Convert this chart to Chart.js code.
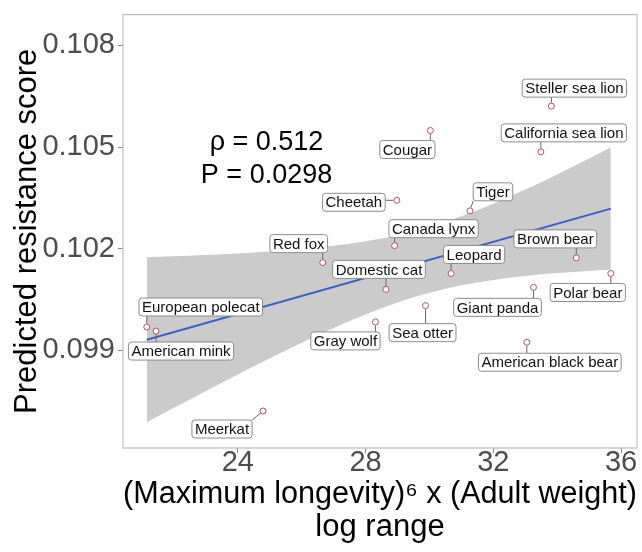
<!DOCTYPE html>
<html>
<head>
<meta charset="utf-8">
<script src="https://cdn.jsdelivr.net/npm/chart.js@4.4.1/dist/chart.umd.min.js"></script>
<style>
  html, body { margin: 0; padding: 0; background: #fff; }
  canvas { display: block; }
</style>
</head>
<body>
<canvas id="resistance" width="642" height="552"></canvas>
<script>
// species
const species = [
    "European polecat", "American mink", "Meerkat", "Red fox", "Domestic cat",
    "Gray wolf", "Sea otter", "Cheetah", "Canada lynx", "Cougar", "Tiger",
    "Leopard", "Brown bear", "Polar bear", "Giant panda", "American black bear",
    "California sea lion", "Steller sea lion"
];
const longevityWeight = [
    21.15, 21.44, 24.79, 26.66, 28.64,
    28.31, 29.88, 28.98, 28.91, 30.03, 31.27,
    30.68, 34.60, 35.68, 33.26, 33.05,
    33.49, 33.82
];
const resistanceScore = [
    0.09969, 0.09957, 0.09721, 0.10159, 0.10080,
    0.09984, 0.10032, 0.10343, 0.10209, 0.10549, 0.10312,
    0.10127, 0.10173, 0.10127, 0.10086, 0.09924,
    0.10486, 0.10621
];

// lm fit and its confidence band, read at a few x positions
const fitX = [21.15, 35.68];
const fitY = [0.099316, 0.103185];
const bandX = [21.15, 22, 23, 24, 25, 26, 27, 28, 29, 30, 31, 32, 33, 34, 35, 35.68];
const bandUpper = [0.101752, 0.101779, 0.101815, 0.101861, 0.101916, 0.101988, 0.102086, 0.102218,
    0.102400, 0.102646, 0.102959, 0.103331, 0.103747, 0.104195, 0.104662, 0.104988];
const bandLower = [0.096880, 0.097305, 0.097801, 0.098289, 0.098766, 0.099226, 0.099662, 0.100062,
    0.100412, 0.100700, 0.100919, 0.101079, 0.101195, 0.101281, 0.101346, 0.101382];

const xTicks = [24, 28, 32, 36];
const yTicks = [0.099, 0.102, 0.105, 0.108];
const statsLines = ["ρ = 0.512", "P = 0.0298"];

// label placement (pixel nudges from each point), like ggrepel put them
const labelNudge = [
    [54, -20], [25, 20], [-41, 18], [-24, -19], [-7, -20],
    [-30, 19], [-3, 27], [-43, 2], [39, -17], [-23, 19], [23, -19],
    [23, -19], [-21, -19], [-23, 19], [-36, 20], [23, 20],
    [23, -19], [23, -18]
];
const statsAt = { x: 24.9, y: [0.10513, 0.10415] };

const FONT = '"Liberation Sans", Arial, Helvetica, sans-serif';

function pts(xs, ys) {
    return xs.map((x, i) => ({ x: x, y: ys[i] }));
}

const panelPlugin = {
    id: 'panel',
    afterDatasetsDraw(chart) {
        const ctx = chart.ctx;
        const xs = chart.scales.x;
        const ys = chart.scales.y;
        const area = chart.chartArea;

        ctx.save();
        // stats annotation
        ctx.fillStyle = '#000';
        ctx.font = '27px ' + FONT;
        ctx.textAlign = 'center';
        ctx.textBaseline = 'middle';
        statsLines.forEach((s, i) => {
            ctx.fillText(s, xs.getPixelForValue(statsAt.x), ys.getPixelForValue(statsAt.y[i]));
        });

        // repelled labels
        ctx.font = '15px ' + FONT;
        species.forEach((name, i) => {
            const px = xs.getPixelForValue(longevityWeight[i]);
            const py = ys.getPixelForValue(resistanceScore[i]);
            const cx = px + labelNudge[i][0];
            const cy = py + labelNudge[i][1];
            const w = ctx.measureText(name).width + 6;
            const h = 18;
            const l = cx - w / 2;
            const t = cy - h / 2;
            const ex = Math.min(Math.max(px, l), l + w);
            const ey = Math.min(Math.max(py, t), t + h);
            const d = Math.hypot(ex - px, ey - py);
            if (d > 4) {
                ctx.beginPath();
                ctx.moveTo(px + (ex - px) / d * 3.5, py + (ey - py) / d * 3.5);
                ctx.lineTo(ex, ey);
                ctx.strokeStyle = '#666';
                ctx.lineWidth = 1;
                ctx.stroke();
            }
            ctx.beginPath();
            ctx.roundRect(l, t, w, h, 3);
            ctx.fillStyle = '#fff';
            ctx.fill();
            ctx.strokeStyle = '#8c8c8c';
            ctx.lineWidth = 1;
            ctx.stroke();
            ctx.fillStyle = '#111';
            ctx.fillText(name, cx, cy + 1);
        });

        // panel border
        ctx.strokeStyle = '#bdbdbd';
        ctx.lineWidth = 1.2;
        ctx.strokeRect(area.left, area.top, area.right - area.left, area.bottom - area.top);
        ctx.restore();
    }
};

function createResistanceChart() {
    const canvas = document.getElementById('resistance');

    const data = {
        datasets: [
            {
                type: 'scatter',
                label: 'species',
                data: pts(longevityWeight, resistanceScore),
                pointRadius: 3,
                pointBorderWidth: 1,
                pointBorderColor: '#b4525c',
                pointBackgroundColor: '#fff',
                order: 0
            },
            {
                type: 'line',
                label: 'fit',
                data: pts(fitX, fitY),
                borderColor: '#3d5fc4',
                borderWidth: 2,
                pointRadius: 0,
                fill: false,
                order: 1
            },
            {
                type: 'line',
                label: 'upper',
                data: pts(bandX, bandUpper),
                borderWidth: 0,
                pointRadius: 0,
                backgroundColor: '#cbcbcb',
                cubicInterpolationMode: 'monotone',
                fill: 3,
                order: 2
            },
            {
                type: 'line',
                label: 'lower',
                data: pts(bandX, bandLower),
                borderWidth: 0,
                pointRadius: 0,
                cubicInterpolationMode: 'monotone',
                fill: false,
                order: 3
            }
        ]
    };

    const config = {
        type: 'scatter',
        data: data,
        options: {
            responsive: false,
            animation: false,
            devicePixelRatio: 1,
            layout: { padding: { top: 13, right: 4, left: 0, bottom: 0 } },
            plugins: {
                legend: { display: false },
                tooltip: { enabled: false }
            },
            scales: {
                x: {
                    type: 'linear',
                    min: 20.406,
                    max: 36.5,
                    afterBuildTicks: (scale) => { scale.ticks = xTicks.map(v => ({ value: v })); },
                    afterFit: (scale) => { scale.height = 104; },
                    grid: { drawOnChartArea: false, tickLength: 5, tickColor: '#888' },
                    border: { display: false },
                    ticks: {
                        font: { family: FONT, size: 29, lineHeight: 1 },
                        color: '#4d4d4d',
                        padding: -5,
                        maxRotation: 0
                    },
                    title: {
                        display: true,
                        text: ['(Maximum longevity)⁶ x (Adult weight)', 'log range'],
                        font: { family: FONT, size: 31, lineHeight: 1.065 },
                        color: '#000',
                        padding: { top: 0, bottom: 8 }
                    }
                },
                y: {
                    type: 'linear',
                    min: 0.096118,
                    max: 0.108912,
                    afterBuildTicks: (scale) => { scale.ticks = yTicks.map(v => ({ value: v })); },
                    afterFit: (scale) => { scale.width = 123; },
                    grid: { drawOnChartArea: false, tickLength: 5, tickColor: '#888' },
                    border: { display: false },
                    ticks: {
                        font: { family: FONT, size: 29, lineHeight: 0.8 },
                        color: '#4d4d4d',
                        padding: 3,
                        callback: (v) => v.toFixed(3)
                    },
                    title: {
                        display: true,
                        text: 'Predicted resistance score',
                        font: { family: FONT, size: 31 },
                        color: '#000',
                        padding: { top: 9, bottom: 0 }
                    }
                }
            }
        },
        plugins: [panelPlugin]
    };

    return new Chart(canvas, config);
}

createResistanceChart();
</script>
</body>
</html>
